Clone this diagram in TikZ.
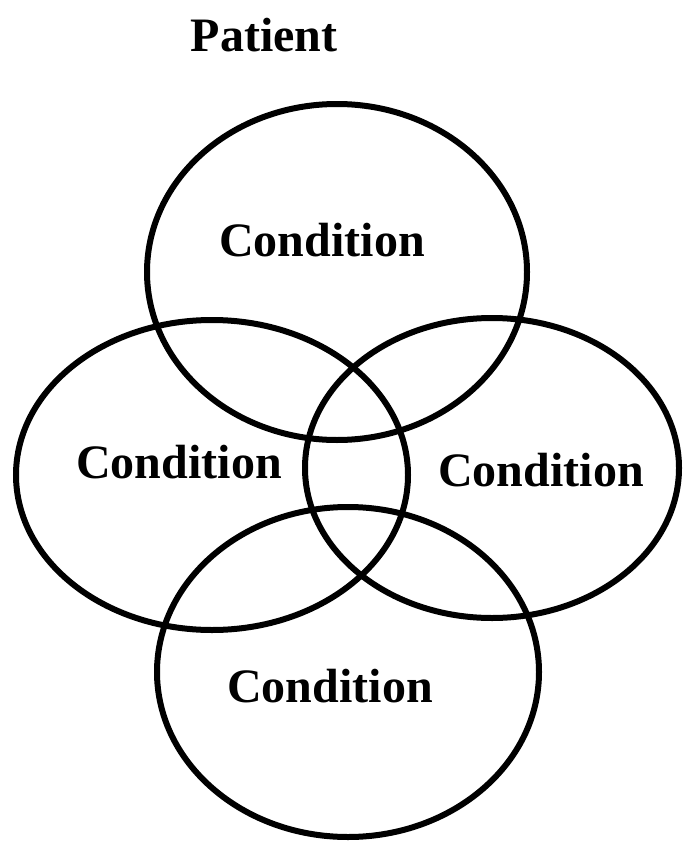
\documentclass[tikz,border=0pt]{standalone}
\usepackage{fontspec}
\setmainfont{Liberation Serif}
\usepackage{tikz}
\usetikzlibrary{positioning}
\tikzset{
  ring/.style={draw=black, line width=6pt},
  condlabel/.style={font=\fontsize{48}{54}\selectfont\bfseries, inner sep=0pt}
}

\begin{document}
\begin{tikzpicture}[x=1pt, y=-1pt]
  \useasboundingbox (0,0) rectangle (683,843);
  \node[condlabel] (patient) at (264,35) {Patient};
  % the four overlapping conditions
  \draw[ring] (337,272) ellipse [x radius=190, y radius=168];
  \draw[ring] (212,475) ellipse [x radius=196, y radius=155];
  \draw[ring] (492,468) ellipse [x radius=187, y radius=150];
  \draw[ring] (348,672) ellipse [x radius=191, y radius=165];
  \node[condlabel] (ctop) at (322,240) {Condition};
  \node[condlabel] (cleft) at (179,462) {Condition};
  \node[condlabel] (cright) at (541,470) {Condition};
  \node[condlabel] (cbottom) at (330,686) {Condition};
\end{tikzpicture}
\end{document}
